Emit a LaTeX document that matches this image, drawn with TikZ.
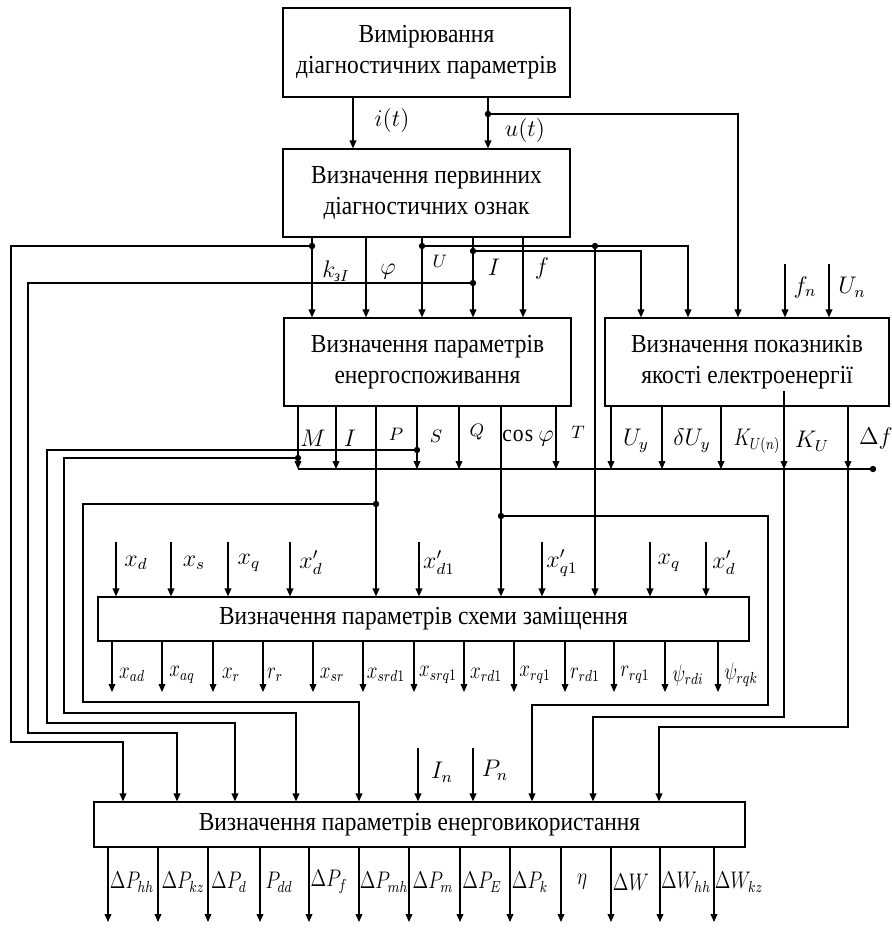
\documentclass[tikz,border=0pt]{standalone}
\usepackage{amsmath}
\usepackage{fontspec}
\setmainfont{Liberation Serif}[FakeStretch=0.9]
\usetikzlibrary{arrows.meta}
\newcommand\nrw[1]{\scalebox{0.8}[1]{#1}}
\tikzset{
  blk/.style={draw,align=center,inner sep=0pt,font=\fontsize{13}{15.5}\selectfont},
  lb/.style={inner sep=0pt,font=\fontsize{12}{14}\selectfont},
  lbs/.style={inner sep=0pt,font=\fontsize{9.5}{11}\selectfont}
}
\begin{document}
\begin{tikzpicture}[x=0.5pt,y=-0.5pt,line width=0.6pt,>={Triangle[length=4pt,width=3.4pt]}]
\useasboundingbox (0,0) rectangle (891,928);
\node[blk,minimum width=143.5pt,minimum height=44.5pt] (meas) at (426.5,52.5) {Вимірювання\\діагностичних параметрів};
\node[blk,minimum width=143.5pt,minimum height=44pt] (prim) at (426.5,193) {Визначення первинних\\діагностичних ознак};
\node[blk,minimum width=143.5pt,minimum height=44pt] (cons) at (427.5,362) {Визначення параметрів\\енергоспоживання};
\node[blk,minimum width=142pt,minimum height=44pt] (qual) at (747,362) {Визначення показників\\якості електроенергії};
\node[blk,minimum width=325.5pt,minimum height=22pt] (equiv) at (423.5,619) {Визначення параметрів схеми заміщення};
\node[blk,minimum width=325.5pt,minimum height=22.5pt] (use) at (419.5,824.5) {Визначення параметрів енерговикористання};
\coordinate (ut) at (488,114);
\coordinate (kI) at (312,246);
\coordinate (U1) at (422,246);
\coordinate (U2) at (595,246);
\coordinate (I1) at (473,251);
\coordinate (I2) at (473,283);
\coordinate (S1) at (417,450);
\coordinate (M1) at (298,458);
\coordinate (bus) at (873,469);
\coordinate (P1) at (376,504);
\coordinate (cf) at (501,516);
\draw[->] (meas.south -| 353,0) -- (prim.north -| 353,0);
\draw[->] (meas.south -| ut) -- (prim.north -| ut);
\draw[->] (ut) -| (qual.north -| 738,0);
\foreach \x in {312,366,422,473,523}
  \draw[->] (prim.south -| \x,0) -- (cons.north -| \x,0);
\draw[->] (U1) -| (qual.north -| 688,0);
\draw[->] (I1) -| (qual.north -| 641,0);
\draw[->] (U2) -- (equiv.north -| U2);
\foreach \x in {785,829}
  \draw[->] (\x,264) -- (qual.north -| \x,0);
\draw[->] (kI) -| (11,742) -| (use.north -| 123,0);
\draw[->] (I2) -| (28,733) -| (use.north -| 177,0);
\draw[->] (S1) -| (47,723) -| (use.north -| 235,0);
\draw[->] (M1) -| (64,713) -| (use.north -| 296,0);
\draw[->] (P1) -| (83,702) -| (use.north -| 359,0);
\draw[->] (cf) -| (768,705) -| (use.north -| 532,0);
\foreach \x in {298,336,417,459,556}
  \draw[->] (cons.south -| \x,0) -- (\x,469);
\foreach \x in {611,662,721,848}
  \draw[->] (qual.south -| \x,0) -- (\x,469);
\draw[->] (784,391) -- (784,469);
\draw[->] (784,469) |- (593,717) -- (use.north -| 593,0);
\draw[->] (848,469) |- (659,727) -- (use.north -| 659,0);
\draw[->] (cons.south -| P1) -- (equiv.north -| P1);
\draw[->] (cons.south -| cf) -- (equiv.north -| cf);
\draw (298,469) -- (bus);
\foreach \p in {ut,kI,U1,U2,I1,I2,S1,M1,P1,cf,bus}
  \fill (\p) circle[radius=1.6pt];
\foreach \x in {418,473}
  \draw[->] (\x,748) -- (use.north -| \x,0);
\foreach \x/\c/\t in {116/136/x_d,171/194/x_s,228/249/x_q,290/311/x'_d,419/439/x'_{d1},542/562/x'_{q1},650/669/x_q,706/724/x'_d}
  \draw[->] (\x,542) -- (equiv.north -| \x,0) node[lb] at (\c,563) {$\t$};
\foreach \x/\c/\t in {112/132/x_{ad},162/182/x_{aq},213/231/x_r,263/275/r_r,313/332/x_{sr},363/386/x_{srd1},414/438/x_{srq1},464/486/x_{rd1},514/535/x_{rq1},565/585/r_{rd1},614/635/r_{rq1},665/688/\psi_{rdi},718/741/\psi_{rqk}}
  \draw[->] (equiv.south -| \x,0) -- (\x,692) node[lb] at (\c,675) {\nrw{$\t$}};
\foreach \x/\c/\t in {108/132/\Delta P_{hh},158/183/\Delta P_{kz},208/229/\Delta P_d,260/279/P_{dd},309/329/\Delta P_f,359/384/\Delta P_{mh},409/433/\Delta P_m,460/482/\Delta P_E,510/530/\Delta P_k,561/582/\eta,611/631/\Delta W,660/686/\Delta W_{hh},714/739/\Delta W_{kz}}
  \draw[->] (use.south -| \x,0) -- (\x,922) node[lb] at (\c,882) {\nrw{$\t$}};
\node[lb] (lit) at (392,120) {$i(t)$};
\node[lb] (lut) at (525,130) {$u(t)$};
\node[lb] (lkI) at (336,271) {$k_{\text{\itshape з}I}$};
\node[lb] (lphi) at (388,272) {$\varphi$};
\node[lbs] (lU) at (440,261) {$U$};
\node[lb] (lI) at (494,267) {$I$};
\node[lb] (lf) at (542,268) {$f$};
\node[lb] (lfn) at (805,287) {$f_n$};
\node[lb] (lUn) at (852,287) {$U_n$};
\node[lb] (lM) at (313,438) {$M$};
\node[lb] (lI2) at (350,438) {$I$};
\node[lbs] (lP) at (396,434) {$P$};
\node[lbs] (lS) at (436,436) {$S$};
\node[lbs] (lQ) at (477,432) {$Q$};
\node[lb] (lcos) at (528,438) {$\cos\varphi$};
\node[lbs] (lT) at (578,432) {$T$};
\node[lb] (lUy) at (636,441) {$U_y$};
\node[lb] (ldU) at (692,441) {$\delta U_y$};
\node[lb] (lKUn) at (757,441) {\nrw{$K_{U(n)}$}};
\node[lb] (lKU) at (812,441) {$K_U$};
\node[lb] (ldf) at (876,438) {$\Delta f$};
\node[lb] (lIn) at (442,772) {$I_n$};
\node[lb] (lPn) at (495,770) {$P_n$};
\end{tikzpicture}
\end{document}
